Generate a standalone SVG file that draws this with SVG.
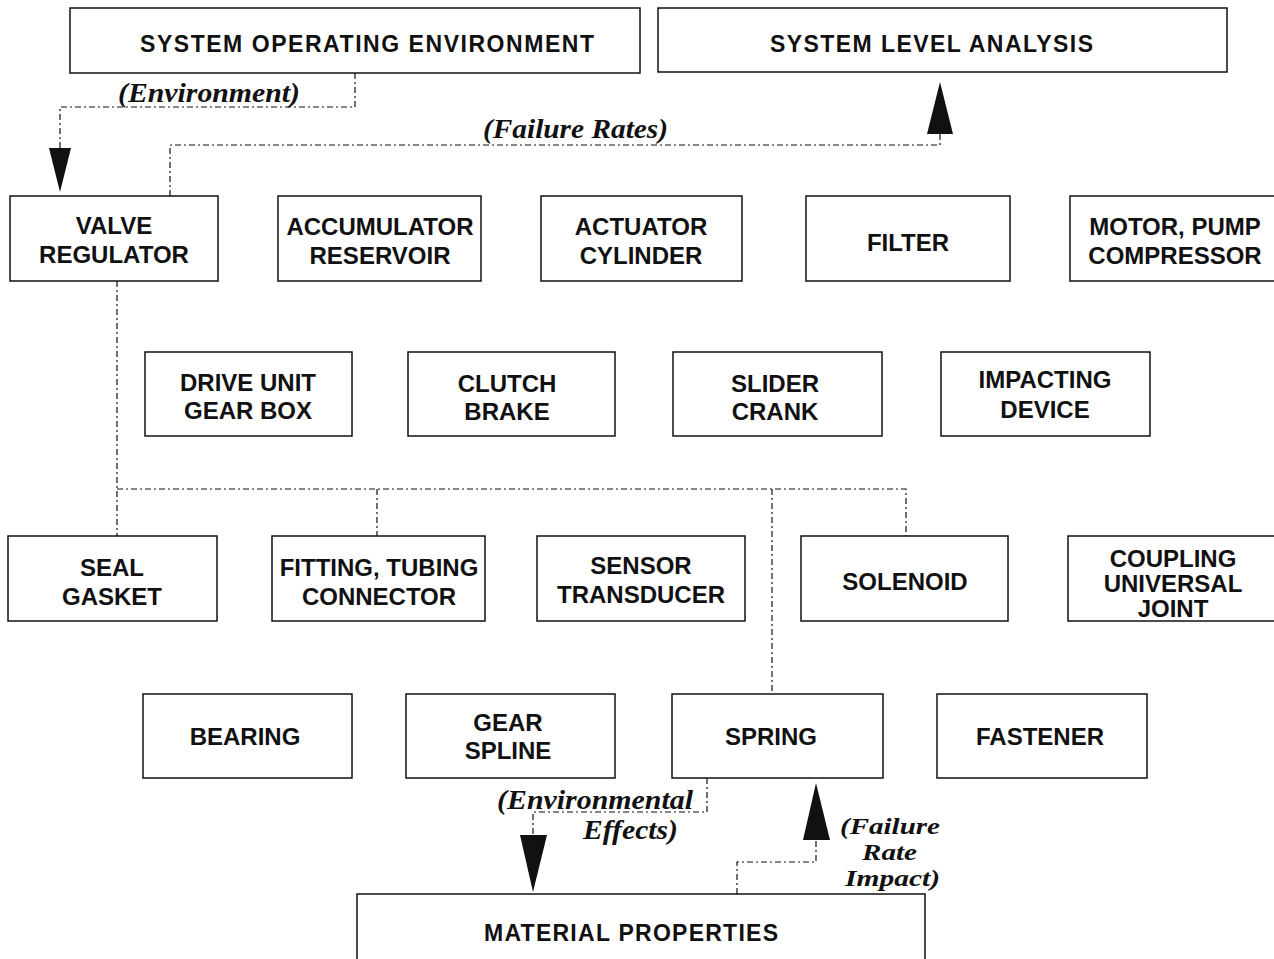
<svg xmlns="http://www.w3.org/2000/svg" width="1274" height="959" viewBox="0 0 1274 959">
<style>
.box{fill:#fff;stroke:#111;stroke-width:1.5}
.lbl{font-family:"Liberation Sans",Arial,sans-serif;font-weight:bold;font-size:24px;fill:#111;text-anchor:middle}
.top{font-family:"Liberation Sans",Arial,sans-serif;font-weight:bold;font-size:23px;fill:#111}
.it{font-family:"Liberation Serif","Times New Roman",serif;font-weight:bold;font-style:italic;font-size:27px;fill:#111}
.it2{font-family:"Liberation Serif","Times New Roman",serif;font-weight:bold;font-style:italic;font-size:23px;fill:#111}
.con{fill:none;stroke:#111;stroke-width:1.2;stroke-dasharray:6 3 2 3}
.ah{fill:#111}
</style>
<rect width="1274" height="959" fill="#fff"/>
<g id="connectors">
<polyline class="con" points="355,73 355,107 60,107 60,150"/>
<polygon class="ah" points="49,148 71,148 60,192"/>
<polyline class="con" points="170,196 170,145 940,145 940,133"/>
<polygon class="ah" points="927,134 953,134 940,82"/>
<polyline class="con" points="117,281 117,536"/>
<polyline class="con" points="117,489 906,489 906,536"/>
<polyline class="con" points="377,489 377,536"/>
<polyline class="con" points="772,489 772,694"/>
<polyline class="con" points="707,778 707,812 533,812 533,836"/>
<polygon class="ah" points="520,835 547,835 533,892"/>
<polyline class="con" points="737,894 737,862 816,862 816,840"/>
<polygon class="ah" points="803,840 830,840 816,783"/>
<text class="it" x="118" y="102" textLength="182" lengthAdjust="spacingAndGlyphs">(Environment)</text>
<text class="it" x="483" y="138" textLength="185" lengthAdjust="spacingAndGlyphs">(Failure Rates)</text>
<text class="it" x="497" y="809" font-size="25" textLength="196" lengthAdjust="spacingAndGlyphs">(Environmental</text>
<text class="it" x="583" y="839" font-size="25" textLength="95" lengthAdjust="spacingAndGlyphs">Effects)</text>
<text class="it2" x="840" y="834" textLength="100" lengthAdjust="spacingAndGlyphs">(Failure</text>
<text class="it2" x="862" y="860" textLength="55" lengthAdjust="spacingAndGlyphs">Rate</text>
<text class="it2" x="845" y="886" textLength="95" lengthAdjust="spacingAndGlyphs">Impact)</text>
</g>
<g id="n-soe"><rect class="box" x="70" y="8" width="570" height="65"/><text class="top" x="140" y="52" textLength="454" lengthAdjust="spacing">SYSTEM OPERATING ENVIRONMENT</text></g>
<g id="n-sla"><rect class="box" x="658" y="8" width="569" height="64"/><text class="top" x="770" y="52" textLength="323" lengthAdjust="spacing">SYSTEM LEVEL ANALYSIS</text></g>
<g id="n-valve"><rect class="box" x="10" y="196" width="208" height="85"/><text class="lbl" x="114" y="234">VALVE</text><text class="lbl" x="114" y="263">REGULATOR</text></g>
<g id="n-accum"><rect class="box" x="278" y="196" width="203" height="85"/><text class="lbl" x="380" y="235">ACCUMULATOR</text><text class="lbl" x="380" y="264">RESERVOIR</text></g>
<g id="n-actuator"><rect class="box" x="541" y="196" width="201" height="85"/><text class="lbl" x="641" y="235">ACTUATOR</text><text class="lbl" x="641" y="264">CYLINDER</text></g>
<g id="n-filter"><rect class="box" x="806" y="196" width="204" height="85"/><text class="lbl" x="908" y="251">FILTER</text></g>
<g id="n-motor"><rect class="box" x="1070" y="196" width="210" height="85"/><text class="lbl" x="1175" y="235">MOTOR, PUMP</text><text class="lbl" x="1175" y="264">COMPRESSOR</text></g>
<g id="n-drive"><rect class="box" x="145" y="352" width="207" height="84"/><text class="lbl" x="248" y="391">DRIVE UNIT</text><text class="lbl" x="248" y="419">GEAR BOX</text></g>
<g id="n-clutch"><rect class="box" x="408" y="352" width="207" height="84"/><text class="lbl" x="507" y="392">CLUTCH</text><text class="lbl" x="507" y="420">BRAKE</text></g>
<g id="n-slider"><rect class="box" x="673" y="352" width="209" height="84"/><text class="lbl" x="775" y="392">SLIDER</text><text class="lbl" x="775" y="420">CRANK</text></g>
<g id="n-impact"><rect class="box" x="941" y="352" width="209" height="84"/><text class="lbl" x="1045" y="388">IMPACTING</text><text class="lbl" x="1045" y="418">DEVICE</text></g>
<g id="n-seal"><rect class="box" x="8" y="536" width="209" height="85"/><text class="lbl" x="112" y="576">SEAL</text><text class="lbl" x="112" y="605">GASKET</text></g>
<g id="n-fitting"><rect class="box" x="272" y="536" width="213" height="85"/><text class="lbl" x="379" y="576">FITTING, TUBING</text><text class="lbl" x="379" y="605">CONNECTOR</text></g>
<g id="n-sensor"><rect class="box" x="537" y="536" width="208" height="85"/><text class="lbl" x="641" y="574">SENSOR</text><text class="lbl" x="641" y="603">TRANSDUCER</text></g>
<g id="n-solenoid"><rect class="box" x="801" y="536" width="207" height="85"/><text class="lbl" x="905" y="590">SOLENOID</text></g>
<g id="n-coupling"><rect class="box" x="1068" y="536" width="210" height="85"/><text class="lbl" x="1173" y="567" font-size="22">COUPLING</text><text class="lbl" x="1173" y="592" font-size="22">UNIVERSAL</text><text class="lbl" x="1173" y="617" font-size="22">JOINT</text></g>
<g id="n-bearing"><rect class="box" x="143" y="694" width="209" height="84"/><text class="lbl" x="245" y="745">BEARING</text></g>
<g id="n-gear"><rect class="box" x="406" y="694" width="209" height="84"/><text class="lbl" x="508" y="731">GEAR</text><text class="lbl" x="508" y="759">SPLINE</text></g>
<g id="n-spring"><rect class="box" x="672" y="694" width="211" height="84"/><text class="lbl" x="771" y="745">SPRING</text></g>
<g id="n-fastener"><rect class="box" x="937" y="694" width="210" height="84"/><text class="lbl" x="1040" y="745">FASTENER</text></g>
<g id="n-material"><rect class="box" x="357" y="894" width="568" height="80"/><text class="top" x="484" y="941" textLength="294" lengthAdjust="spacing">MATERIAL PROPERTIES</text></g>
</svg>
